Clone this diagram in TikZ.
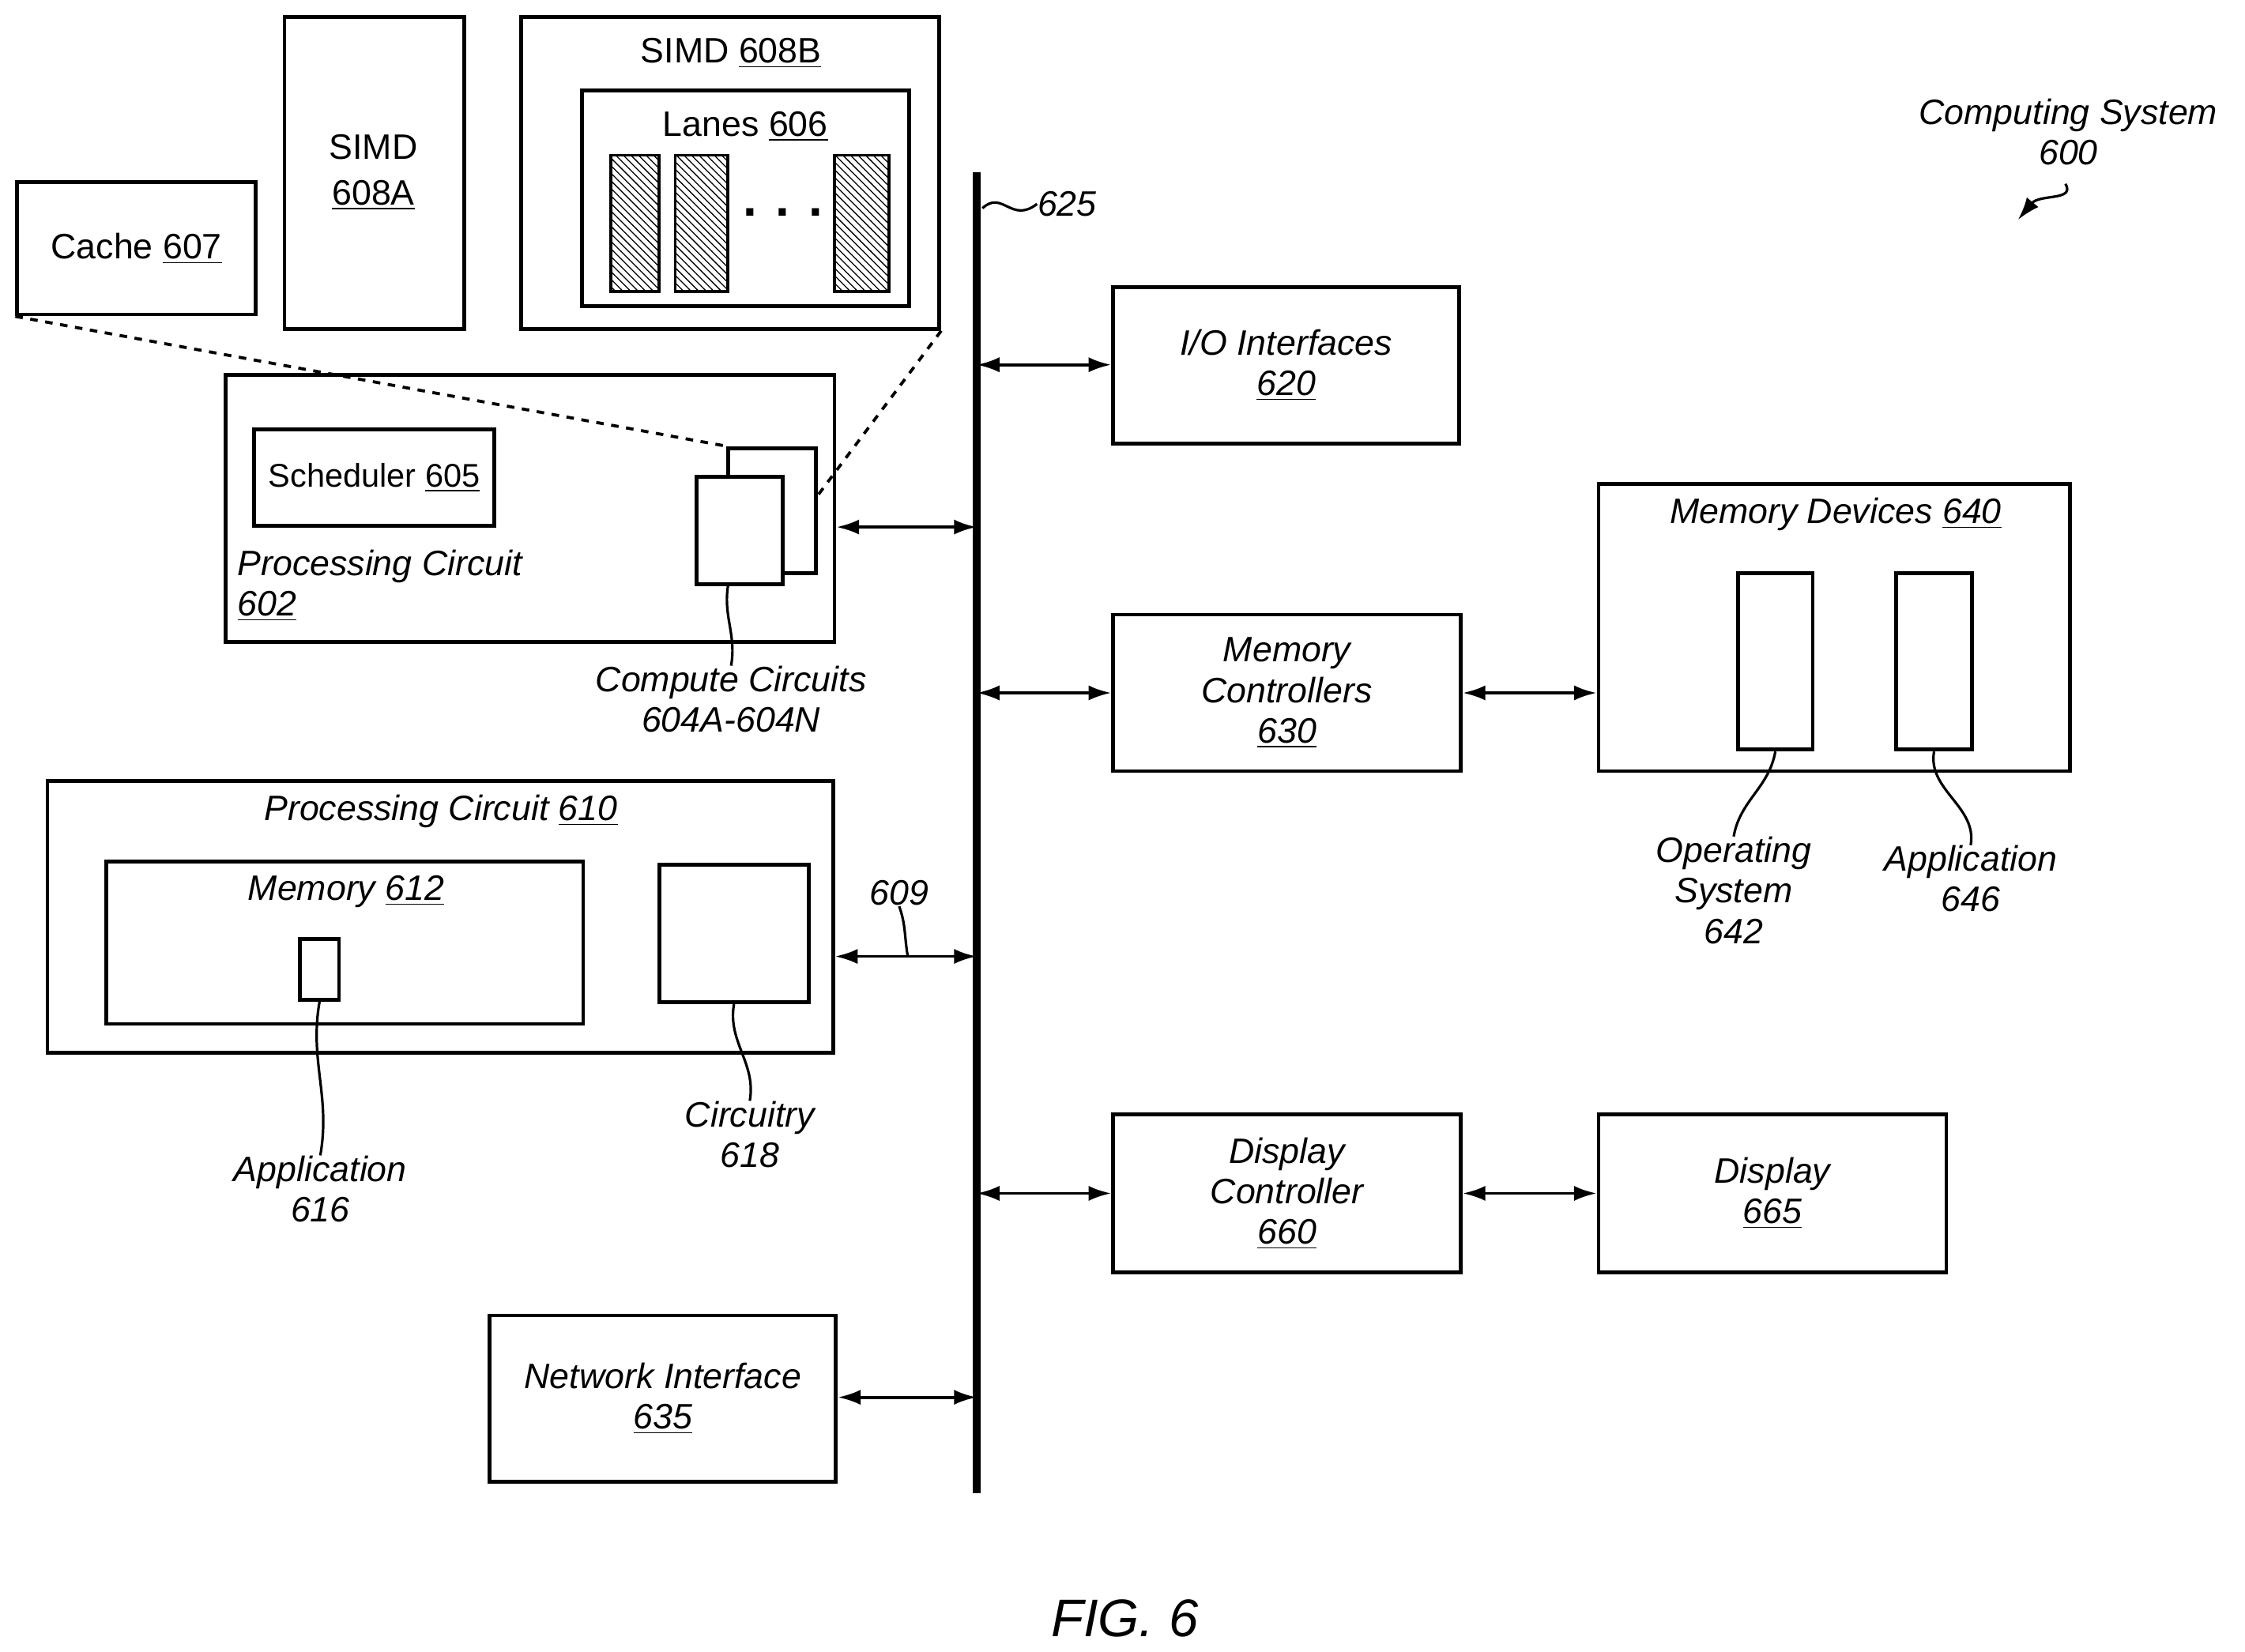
\documentclass[tikz,border=0pt]{standalone}
\usepackage{fontspec}
\setmainfont{Liberation Sans}
\usetikzlibrary{arrows.meta,fit,patterns}

\tikzset{
  box/.style={draw, line width=1.5pt, inner sep=0pt},
  lbl/.style={font=\fontsize{14}{16}\selectfont\itshape, align=center, inner sep=0pt},
  txt/.style={font=\fontsize{14}{16}\selectfont, align=center, inner sep=0pt},
  link/.style={line width=1.2pt, {Latex[length=9pt,width=6pt]}-{Latex[length=9pt,width=6pt]}},
  squig/.style={line width=1pt},
  hatch/.style={draw, line width=1.2pt, pattern=north west lines}
}
\newcommand{\un}[1]{\underline{#1}}

\begin{document}
\begin{tikzpicture}[x=0.02cm, y=-0.02cm]
\useasboundingbox (0,0) rectangle (1563,1150);

% top: cache and SIMD units
\node[box, fit={(12,127) (178,219)}] (cache) {};
\node[txt] at (cache.center) {Cache \un{607}};
\node[box, fit={(198,12) (323,229)}] (simdA) {};
\node[txt] at (260,120) {SIMD\\[2pt]\un{608A}};
\node[box, fit={(363,12) (654,229)}] (simdB) {};
\node[txt] at (509,37) {SIMD \un{608B}};
\node[box, fit={(405,63) (633,213)}] (lanes) {};
\node[txt] at (519,88) {Lanes \un{606}};
\node[hatch, fit={(431,114) (453,197)}] (lane1) {};
\node[hatch, fit={(476,114) (501,197)}] (lane2) {};
\node[hatch, fit={(587,114) (613,197)}] (laneN) {};
\node[txt, font=\fontsize{20}{20}\selectfont\bfseries] at (545,148) {. . .};

% processing circuit 602
\node[box, fit={(157,261) (581,447)}] (pc602) {};
\node[box, fit={(177,299) (344,366)}] (sched) {};
\node[txt, font=\fontsize{13}{15}\selectfont] at (sched.center) {Scheduler \un{605}};
\node[lbl, anchor=west, align=left] at (165,408) {Processing Circuit\\\un{602}};
\node[box, fit={(507,312) (568,399)}] (ccback) {};
\node[box, fill=white, fit={(485,332) (545,407)}] (ccfront) {};
\node[lbl] (cclbl) at (509,487) {Compute Circuits\\604A-604N};
\draw[squig] (507,407) to[out=-100,in=80] (cclbl.north);
\draw[dashed, line width=1.2pt] (cache.south west) -- (ccback.north west);
\draw[dashed, line width=1.2pt] (simdB.south east) -- (ccback.north east |- 0,345);

% bus
\coordinate (bustop) at (680,120);
\coordinate (busbot) at (680,1040);
\draw[line width=3pt] (bustop) -- (busbot);
\node[lbl, anchor=west] (buslbl) at (722,142) {625};
\draw[squig] (684,145) .. controls (698,132) and (704,156) .. (buslbl.west);

% right side
\node[box, fit={(775,200) (1016,309)}] (io) {};
\node[lbl] at (io.center) {I/O Interfaces\\\un{620}};
\node[box, fit={(775,428) (1017,537)}] (memctl) {};
\node[lbl] at (memctl.center) {Memory\\Controllers\\\un{630}};
\node[box, fit={(1113,337) (1441,537)}] (memdev) {};
\node[lbl] at (1278,358) {Memory Devices \un{640}};
\node[box, fit={(1210,399) (1262,522)}] (os) {};
\node[box, fit={(1320,399) (1373,522)}] (app646) {};
\node[lbl] (oslbl) at (1207,620) {Operating\\System\\642};
\node[lbl] (applbl) at (1372,612) {Application\\646};
\draw[squig] (os.south) to[out=-100,in=80] (oslbl.north);
\draw[squig] (app646.south) to[out=-100,in=80] (applbl.north);
\node[box, fit={(775,776) (1017,886)}] (dispctl) {};
\node[lbl] at (dispctl.center) {Display\\Controller\\\un{660}};
\node[box, fit={(1113,776) (1355,886)}] (disp) {};
\node[lbl] at (disp.center) {Display\\\un{665}};

% processing circuit 610
\node[box, fit={(33,544) (580,733)}] (pc610) {};
\node[lbl] at (307,565) {Processing Circuit \un{610}};
\node[box, fit={(74,600) (406,713)}] (mem612) {};
\node[lbl] at (241,621) {Memory \un{612}};
\node[box, fit={(209,654) (236,696)}] (app616) {};
\node[lbl] (app616lbl) at (223,828) {Application\\616};
\draw[squig] (app616.south) to[out=-100,in=80] (app616lbl.north);
\node[box, fit={(459,602) (563,698)}] (circ) {};
\node[lbl] (circlbl) at (522,790) {Circuitry\\618};
\draw[squig] (circ.south) to[out=-100,in=80] (circlbl.north);

% network interface
\node[box, fit={(341,916) (582,1032)}] (net) {};
\node[lbl] at (net.center) {Network Interface\\\un{635}};

% links to bus
\draw[link] (io.west |- 0,254) -- (bustop |- 0,254);
\draw[link] (pc602.east |- 0,367) -- (bustop |- 0,367);
\draw[link] (memctl.west) -- (bustop |- memctl.west);
\draw[link] (memctl.east) -- (memdev.west |- memctl.east);
\coordinate (l609) at (632,666);
\draw[link] (pc610.east |- l609) -- (bustop |- l609);
\node[lbl] (lbl609) at (626,622) {609};
\draw[squig] (lbl609.south) to[out=-70,in=100] (l609);
\draw[link] (dispctl.west) -- (bustop |- dispctl.west);
\draw[link] (dispctl.east) -- (disp.west);
\draw[link] (net.east |- 0,973) -- (bustop |- 0,973);

% title
\node[lbl] (sys) at (1440,92) {Computing System\\600};
\coordinate (sysarr) at (1405,153);
\draw[squig, -{Latex[length=9pt,width=6pt]}] (1438,128) .. controls (1445,140) and (1420,135) .. (sysarr);
\node[lbl, font=\fontsize{21}{24}\selectfont\itshape] at (783,1127) {FIG. 6};
\end{tikzpicture}
\end{document}
